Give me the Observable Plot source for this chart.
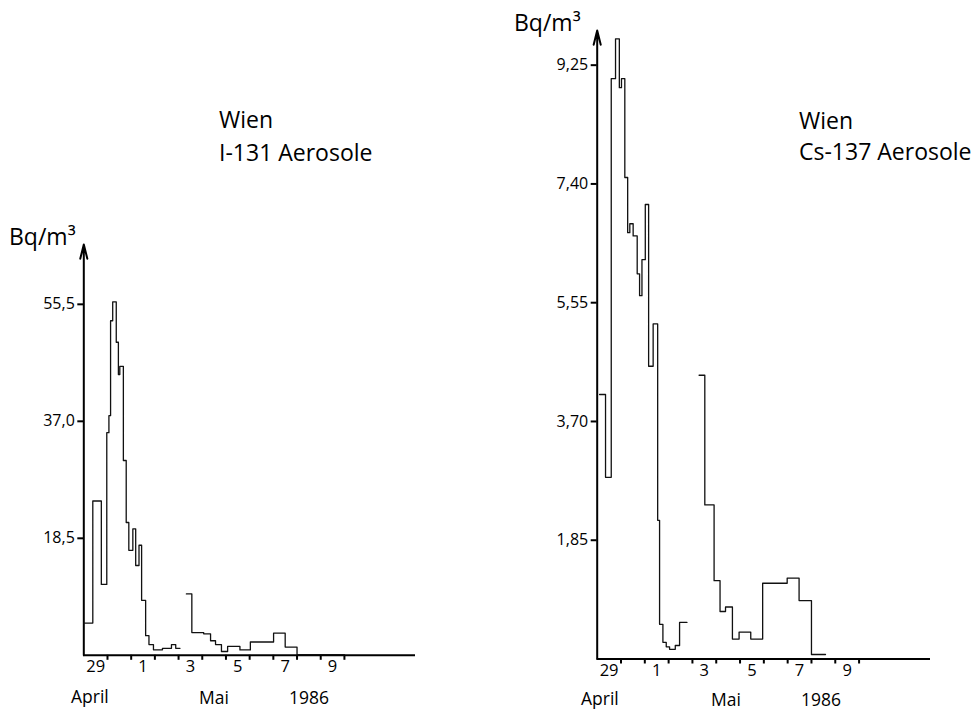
<!DOCTYPE html>
<html>
<head>
<meta charset="utf-8">
<script src="https://cdn.jsdelivr.net/npm/d3@7"></script>
<script src="https://cdn.jsdelivr.net/npm/@observablehq/plot@0.6"></script>
<style>
  body { margin: 0; background: #fff; }
  #wrap { position: relative; width: 980px; height: 711px; overflow: hidden; font-family: "Open Sans", sans-serif; color: #000; background: #fff; }
  .panel { position: absolute; top: 0; }
  .t { position: absolute; white-space: nowrap; line-height: 1; }
  .big { font-size: 23px; }
  .small { font-size: 17.5px; }
</style>
</head>
<body>
<div id="wrap"></div>
<script>
// ---- shared axis definitions (days counted from 29 April 1986, 00:00) ----
const xDomain = [0, 14];
const dayBoundaries = [1, 2, 3, 4, 5, 6, 7, 8, 9, 10, 11];
const labelDays = [0.5, 2.5, 4.5, 6.5, 8.5, 10.5];
const dayLabels = ["29", "1", "3", "5", "7", "9"];
const monthLabels = ["April", "Mai", "1986"];
const unitLabel = "Bq/m³";

// ---- I-131 (left panel) ----
const i131Ticks = [18.5, 37.0, 55.5];
const i131Top = 64.96;
const i131Title = ["Wien", "I-131 Aerosole"];
const i131Days1 = [0.00, 0.38, 0.74, 0.97, 1.06, 1.13, 1.22, 1.37, 1.46, 1.52, 1.67, 1.79, 1.90, 2.07, 2.19, 2.33, 2.44, 2.61, 2.75, 2.94, 3.32, 3.70, 3.88];
const i131Vals1 = [5.1, 24.4, 11.2, 35.2, 37.9, 52.9, 55.9, 49.5, 44.4, 45.7, 30.8, 21.0, 16.6, 20.0, 14.2, 17.4, 8.7, 3.1, 1.7, 0.87, 1.1, 1.7, 1.1];
const i131End1 = 4.06;
const i131Days2 = [4.33, 4.56, 5.06, 5.35, 5.56, 5.81, 6.07, 6.59, 7.03, 8.01, 8.50, 9.00];
const i131Vals2 = [9.7, 3.6, 3.4, 2.3, 1.7, 0.6, 1.4, 0.85, 2.1, 3.5, 1.3, 0.12];
const i131End2 = 11.0;

// ---- Cs-137 (right panel) ----
const cs137Ticks = [1.85, 3.70, 5.55, 7.40, 9.25];
const cs137Top = 9.79;
const cs137Title = ["Wien", "Cs-137 Aerosole"];
const cs137Days1 = [0.10, 0.35, 0.59, 0.77, 0.93, 1.02, 1.16, 1.28, 1.37, 1.51, 1.68, 1.78, 1.88, 2.02, 2.16, 2.35, 2.54, 2.62, 2.76, 2.90, 3.04, 3.28, 3.46];
const cs137Vals1 = [4.12, 2.83, 9.04, 9.66, 8.90, 9.04, 7.50, 6.64, 6.78, 6.59, 6.00, 5.66, 6.22, 7.08, 4.56, 5.22, 2.16, 0.54, 0.26, 0.19, 0.15, 0.21, 0.57];
const cs137End1 = 3.77;
const cs137Days2 = [4.28, 4.52, 4.91, 5.16, 5.39, 5.68, 5.96, 6.45, 6.95, 7.98, 8.48, 9.00];
const cs137Vals2 = [4.42, 2.40, 1.22, 0.74, 0.81, 0.31, 0.42, 0.31, 1.18, 1.26, 0.91, 0.07];
const cs137End2 = 9.59;

// ---- helpers ----
function stepRows(days, vals, end, seg) {
  const rows = days.map((d, i) => ({day: d, value: vals[i], seg}));
  rows.push({day: end, value: vals[vals.length - 1], seg});
  return rows;
}
const labelMap = new Map(labelDays.map((d, i) => [d, dayLabels[i]]));

function panel({rows, ticks, top, fmt, margins, width}) {
  return Plot.plot({
    width, height: 711,
    marginLeft: margins[0], marginRight: margins[1], marginTop: margins[2], marginBottom: margins[3],
    x: {domain: xDomain},
    y: {domain: [0, top]},
    style: {fontFamily: "'Open Sans', sans-serif", fontSize: "16px", color: "#000", background: "transparent", overflow: "visible"},
    marks: [
      Plot.axisY(ticks, {tickSize: 6, tickPadding: 3, strokeWidth: 2, fontSize: 16, tickFormat: fmt, label: null}),
      Plot.axisX(dayBoundaries, {tickSize: 5, strokeWidth: 2, tickFormat: () => "", label: null}),
      Plot.axisX(labelDays, {tickSize: 0, tickPadding: 5, fontSize: 16.5, tickFormat: d => labelMap.get(d), label: null}),
      Plot.ruleY([0], {stroke: "#000", strokeWidth: 2}),
      Plot.arrow([{x: 0, y1: 0, y2: top}], {x1: "x", x2: "x", y1: "y1", y2: "y2", stroke: "#000", strokeWidth: 2, headLength: 11, headAngle: 28}),
      Plot.line(rows, {x: "day", y: "value", z: "seg", curve: "step-after", stroke: "#111", strokeWidth: 1.3})
    ]
  });
}

const wrap = document.getElementById("wrap");

const left = panel({
  rows: [...stepRows(i131Days1, i131Vals1, i131End1, "a"), ...stepRows(i131Days2, i131Vals2, i131End2, "b")],
  ticks: i131Ticks, top: i131Top,
  fmt: d => d.toFixed(1).replace(".", ","),
  margins: [83.3, 75, 244, 56.2], width: 490
});
left.classList.add("panel"); left.style.left = "0px";
wrap.appendChild(left);

const right = panel({
  rows: [...stepRows(cs137Days1, cs137Vals1, cs137End1, "a"), ...stepRows(cs137Days2, cs137Vals2, cs137End2, "b")],
  ticks: cs137Ticks, top: cs137Top,
  fmt: d => d.toFixed(2).replace(".", ","),
  margins: [106.7, 50, 30, 52.5], width: 490
});
right.classList.add("panel"); right.style.left = "490px";
wrap.appendChild(right);

// ---- text labels ----
function addText(txt, cls, x, y) {
  const d = document.createElement("div");
  d.className = "t " + cls;
  d.textContent = txt;
  d.style.left = x + "px";
  d.style.top = y + "px";
  wrap.appendChild(d);
}
addText(unitLabel, "big", 9, 224.6);
addText(i131Title[0], "big", 219, 107.9);
addText(i131Title[1], "big", 219, 141.3);
addText(unitLabel, "big", 514, 11.3);
addText(cs137Title[0], "big", 799, 108.9);
addText(cs137Title[1], "big", 799, 139.6);
addText(monthLabels[0], "small", 71, 688);
addText(monthLabels[1], "small", 199, 688.5);
addText(monthLabels[2], "small", 289, 689);
addText(monthLabels[0], "small", 581, 690);
addText(monthLabels[1], "small", 711, 690.5);
addText(monthLabels[2], "small", 801, 690.5);
</script>
</body>
</html>
